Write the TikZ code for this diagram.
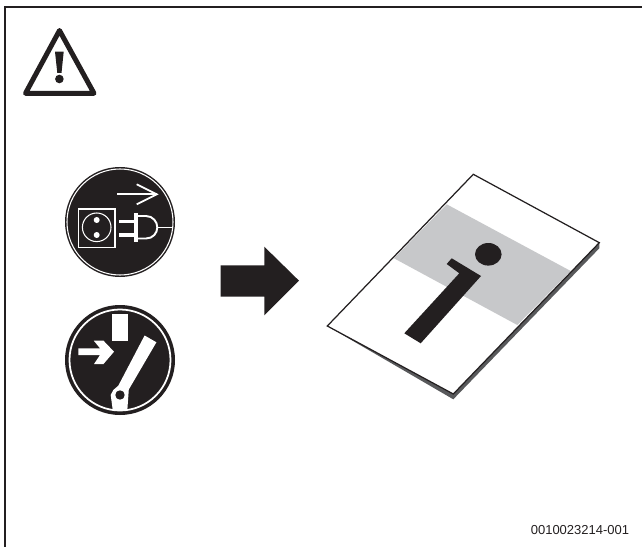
\documentclass[tikz,border=0pt]{standalone}
\usepackage{fontspec}
\setmainfont{Liberation Sans}
\definecolor{inkblack}{HTML}{231F20}
\definecolor{bandgrey}{HTML}{C7C8CA}
\definecolor{sheetgrey}{HTML}{58595B}

\begin{document}
\begin{tikzpicture}[x=0.02cm,y=-0.02cm,
    inkfill/.style={fill=inkblack},
    whitefill/.style={fill=white},
    whiteline/.style={draw=white,line width=#1},
    whiteline/.default=1pt]
  \useasboundingbox (0,0) rectangle (642,547);
  \draw[line width=0.96pt,draw=inkblack] (5.3,547) -- (5.3,6.7) -- (642,6.7);
  \draw[line width=2.83pt,draw=inkblack,line join=round] (59.5,30.5) -- (94,93.3) -- (25.5,93.3) -- cycle;
  \fill[inkfill] (55,51.7) -- (63.7,51.7) -- (61.5,73) -- (57.3,73) -- cycle;
  \fill[inkfill] (59.4,79) circle (4.3);
  \coordinate (P) at (120,222);
  \fill[inkfill] (P) circle (55);
  \draw[whiteline=0.6pt] (P) circle (53);
  \draw[whiteline] (117.3,194.3) -- (156.7,194.3);
  \draw[whiteline] (136.7,184.3) -- (156.7,194.3) -- (136.7,204.3);
  \draw[whiteline=0.8pt] (78.5,209) rectangle (115,247.3);
  \draw[whiteline=0.6pt] (96.7,227.3) circle (14.3);
  \foreach \y in {220,235} {
    \fill[whitefill] (96.7,\y) circle (3);
  }
  \foreach \y in {220,233.3} {
    \fill[whitefill] (119,\y) rectangle (135,\y+3.5);
  }
  \fill[whitefill] (134.3,213.3) rectangle (138.3,241.7);
  \draw[whiteline=1.1pt] (138,216) -- (146,216) .. controls (153,216) and (157.3,222) .. (157.3,227.3)
    .. controls (157.3,233) and (153,238.5) .. (146,238.5) -- (138,238.5);
  \draw[whiteline=0.6pt] (157.3,227.3) -- (172.7,227.3);
  \coordinate (S) at (120,360);
  \fill[inkfill] (S) circle (55);
  \draw[whiteline] (S) circle (50.5);
  \fill[whitefill] (112.3,314) rectangle (128,341.3);
  \fill[whitefill] (78.3,348.3) -- (100,348.3) -- (93.8,340.7) -- (103.5,340.7) -- (114,351.7) -- (103.5,364) -- (94,364) -- (100,355) -- (78.3,355) -- cycle;
  \fill[whitefill] (144.6,335.5) -- (156.4,342.3) -- (128.8,389.5) -- (127.3,410.5) -- (112.8,410.5) -- (110.7,395) -- (113.3,390) -- (118.3,385.7) -- cycle;
  \fill[inkfill] (120,395) circle (4.7);
  \fill[inkfill] (220.7,265.3) -- (264.3,265.3) -- (264.3,246.7) -- (299,280.7) -- (264.3,315.3) -- (264.3,296.7) -- (220.7,296.7) -- cycle;
  \coordinate (A) at (473.3,174.3);
  \coordinate (B) at (599.3,242.7);
  \coordinate (C) at (453.3,394);
  \coordinate (D) at (327.3,326);
  \fill[sheetgrey] (D) -- (B) -- (599.3,248.3) -- (453.3,399.3) -- cycle;
  \fill[whitefill] (A) -- (B) -- (C) -- (D) -- cycle;
  \fill[bandgrey] (446.7,204.3) -- (570.7,271) -- (517.3,325) -- (394,258.3) -- cycle;
  \draw[line width=0.7pt,draw=inkblack] (A) -- (B) -- (C) -- (D) -- cycle;
  \fill[inkfill] (451.7,258.3) -- (481,276) -- (420.7,343.3) -- (404.3,333.3) -- (459.3,273.3) -- (446.7,264) -- cycle;
  \fill[inkfill] (488.3,254.3) ellipse (13.3 and 11.3);
  \node[anchor=base east,inner sep=0pt,font=\fontsize{7.4pt}{9pt}\selectfont,text=inkblack] (drawingno) at (629.5,534) {0010023214-001};
\end{tikzpicture}
\end{document}
